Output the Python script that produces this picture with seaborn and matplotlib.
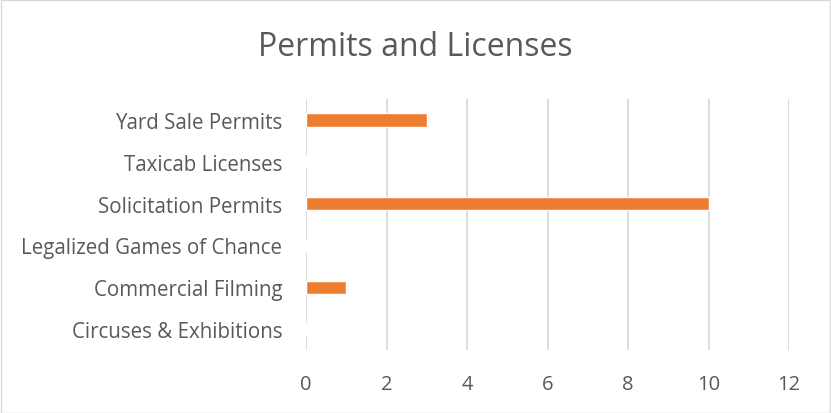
import matplotlib
matplotlib.use("Agg")
import matplotlib.pyplot as plt
import seaborn as sns
import pandas as pd
from matplotlib.patches import Rectangle

categories = ["Yard Sale Permits", "Taxicab Licenses", "Solicitation Permits",
              "Legalized Games of Chance", "Commercial Filming", "Circuses & Exhibitions"]
counts = [3, 0, 10, 0, 1, 0]
xticks = [0, 2, 4, 6, 8, 10, 12]

df = pd.DataFrame({"category": categories, "count": counts})

sns.set_style("white")
plt.rcParams['font.family'] = ['Open Sans', 'DejaVu Sans']
txt = '#595959'

fig = plt.figure(figsize=(8.31, 4.14), dpi=100)
ax = fig.add_axes([306/831, 1-351/414, (789-306)/831, (351-100)/414])

sns.barplot(data=df, x="count", y="category", color="#ED7D31", width=0.32,
            saturation=1, ax=ax, orient="h")

ax.set_xlim(0, 12)
ax.set_xticks(xticks)
ax.set_xticklabels([str(t) for t in xticks], fontsize=14.5, color=txt)
ax.set_ylim(5.5, -0.5)
ax.tick_params(axis='y', labelsize=14.8, colors=txt, length=0, pad=17)
ax.tick_params(axis='x', length=0, pad=17)
ax.set_xlabel("")
ax.set_ylabel("")
ax.grid(axis='x', color='#D9D9D9', linewidth=1.3)
ax.set_axisbelow(True)
for s in ax.spines.values():
    s.set_visible(False)

fig.text(0.5, 1-47/414, "Permits and Licenses", ha='center', va='center',
         fontsize=23, color=txt)
fig.patches.append(Rectangle((0.5/831, 0.5/414), 1-1.5/831, 1-1.5/414,
                             transform=fig.transFigure, fill=False,
                             edgecolor='#D9D9D9', linewidth=1))

fig.savefig("out.png", dpi=100)
